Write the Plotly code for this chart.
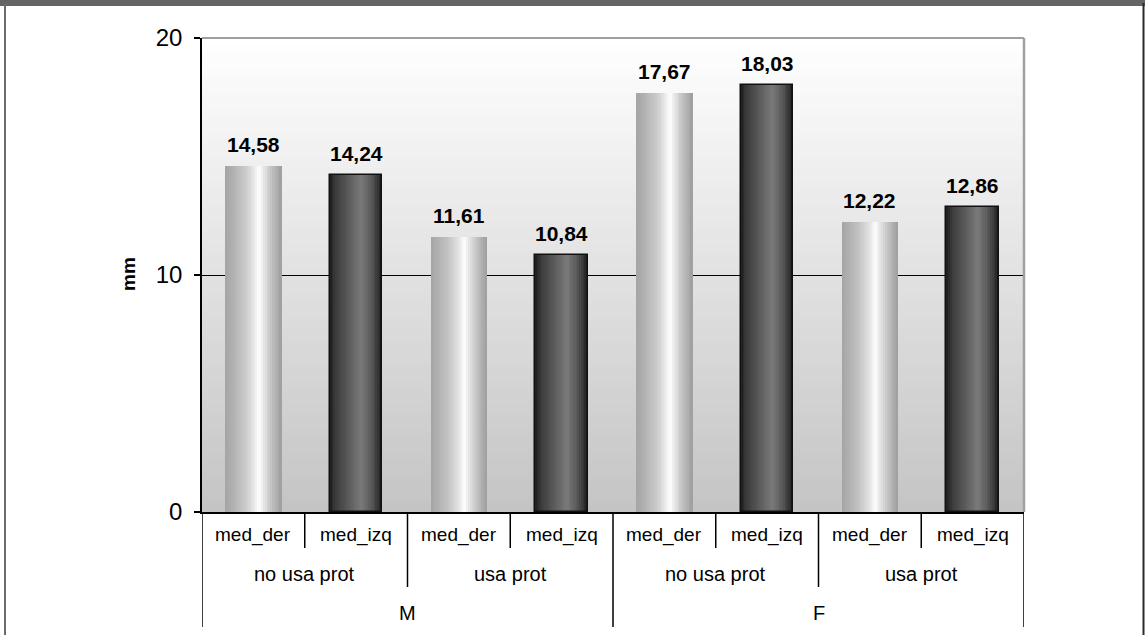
import plotly.graph_objects as go

# ---- data ----
sexes = ["M", "F"]
prot_groups = ["no usa prot", "usa prot"]
sides = ["med_der", "med_izq"]
values = [14.58, 14.24, 11.61, 10.84, 17.67, 18.03, 12.22, 12.86]
y_ticks = [0, 10, 20]
y_title = "mm"

FONT = "Liberation Sans, Arial, sans-serif"

# plot geometry (pixels)
W, H = 1145, 635
ML, MR, MT, MB = 202, 121, 38, 123
PW, PH = W - ML - MR, H - MT - MB


def px_y(py):
    return (H - MB - py) / PH


def px_x(px):
    return (px - ML) / PW


def hex2rgb(h):
    h = h.lstrip("#")
    return tuple(int(h[i:i + 2], 16) for i in (0, 2, 4))


def interp(stops, t):
    for (t0, c0), (t1, c1) in zip(stops, stops[1:]):
        if t0 <= t <= t1:
            f = (t - t0) / (t1 - t0) if t1 > t0 else 0
            a, b = hex2rgb(c0), hex2rgb(c1)
            return "rgb(%d,%d,%d)" % tuple(round(a[i] + (b[i] - a[i]) * f) for i in range(3))
    return stops[-1][1]


light_stops = [(0.0, "#a4a4a4"), (0.15, "#b2b2b2"), (0.35, "#c9c9c9"), (0.5, "#e4e4e4"),
               (0.6, "#ffffff"), (0.7, "#e0e0e0"), (0.85, "#bbbbbb"), (1.0, "#9e9e9e")]
dark_stops = [(0.0, "#1c1c1c"), (0.1, "#3a3a3a"), (0.35, "#5a5a5a"), (0.6, "#7a7a7a"),
              (0.8, "#575757"), (0.92, "#343434"), (1.0, "#1a1a1a")]

xpos = list(range(len(values)))
light_x = [x for x in xpos if x % 2 == 0]
dark_x = [x for x in xpos if x % 2 == 1]
light_v = [values[x] for x in light_x]
dark_v = [values[x] for x in dark_x]

fig = go.Figure()

N = 30


def add_cylinder(xs, vs, width, stops):
    sw = width / N
    for k in range(N):
        c = interp(stops, (k + 0.5) / N)
        w = sw * 1.2 if k < N - 1 else sw
        fig.add_trace(go.Bar(x=xs, y=vs, width=w, offset=-width / 2 + k * sw,
                             marker=dict(color=c, line=dict(width=0)),
                             hoverinfo="skip", showlegend=False))


add_cylinder(light_x, light_v, 0.55, light_stops)
add_cylinder(dark_x, dark_v, 0.51, dark_stops)
fig.add_trace(go.Bar(x=dark_x, y=dark_v, width=0.51, offset=-0.255,
                     marker=dict(color="rgba(0,0,0,0)", line=dict(color="#111111", width=1.5)),
                     hoverinfo="skip", showlegend=False))

shapes = []
# background gradient
NB = 80
for k in range(NB):
    t = (k + 0.5) / NB
    c = interp([(0.0, "#c4c4c4"), (1.0, "#ffffff")], t)
    shapes.append(dict(type="rect", xref="paper", yref="paper", x0=0, x1=1,
                       y0=k / NB, y1=(k + 1) / NB + 0.002, fillcolor=c,
                       line=dict(width=0), layer="below"))
# plot top / right borders
shapes.append(dict(type="line", xref="paper", yref="paper", x0=0, x1=1, y0=1, y1=1,
                   line=dict(color="#a0a0a0", width=2), layer="above"))
shapes.append(dict(type="line", xref="paper", yref="paper", x0=1, x1=1, y0=0, y1=1,
                   line=dict(color="#a0a0a0", width=2.5), layer="above"))

# category axis separators
inner_y = px_y(548)
mid_y = px_y(587)
outer_y = px_y(627)
for g in range(len(sexes) * len(prot_groups)):
    xs = g * 2 + 0.5
    shapes.append(dict(type="line", xref="x", yref="paper", x0=xs, x1=xs, y0=0, y1=inner_y,
                       line=dict(color="black", width=1.5)))
for s in range(len(sexes)):
    xs = s * 4 + 1.5
    shapes.append(dict(type="line", xref="x", yref="paper", x0=xs, x1=xs, y0=0, y1=mid_y,
                       line=dict(color="black", width=1.5)))
for s in range(len(sexes) + 1):
    xs = s * 4 - 0.5
    shapes.append(dict(type="line", xref="x", yref="paper", x0=xs, x1=xs, y0=0, y1=outer_y,
                       line=dict(color="black", width=1.5)))

# outer frame
shapes.append(dict(type="rect", xref="paper", yref="paper", x0=px_x(0), x1=px_x(W),
                   y0=px_y(6), y1=px_y(-2), fillcolor="#646464", line=dict(width=0)))
shapes.append(dict(type="line", xref="paper", yref="paper", x0=px_x(5), x1=px_x(5),
                   y0=px_y(H + 5), y1=px_y(3), line=dict(color="#6a6a6a", width=2)))
shapes.append(dict(type="line", xref="paper", yref="paper", x0=px_x(1143.5), x1=px_x(1143.5),
                   y0=px_y(H + 5), y1=px_y(3), line=dict(color="#2a2a2a", width=2)))

annotations = []
# data labels
for x, v in zip(xpos, values):
    annotations.append(dict(x=x, y=v, xref="x", yref="y", text="<b>%s</b>" % f"{v:.2f}".replace(".", ","),
                            showarrow=False, yanchor="bottom", yshift=8,
                            font=dict(family=FONT, size=21, color="black")))
# level-1 labels
for x in xpos:
    annotations.append(dict(x=x, y=px_y(535), xref="x", yref="paper", text=sides[x % 2],
                            showarrow=False, yanchor="middle",
                            font=dict(family=FONT, size=19, color="black")))
# level-2 labels
for g in range(len(sexes) * len(prot_groups)):
    annotations.append(dict(x=g * 2 + 0.5, y=px_y(574), xref="x", yref="paper",
                            text=prot_groups[g % 2], showarrow=False, yanchor="middle",
                            font=dict(family=FONT, size=20, color="black")))
# level-3 labels
for s in range(len(sexes)):
    annotations.append(dict(x=s * 4 + 1.5, y=px_y(613), xref="x", yref="paper",
                            text=sexes[s], showarrow=False, yanchor="middle",
                            font=dict(family=FONT, size=20, color="black")))
# y title
annotations.append(dict(x=px_x(128), y=px_y(274), xref="paper", yref="paper",
                        text="<b>%s</b>" % y_title, showarrow=False, textangle=-90,
                        xanchor="center", yanchor="middle",
                        font=dict(family=FONT, size=19, color="black")))

fig.update_layout(
    width=W, height=H,
    margin=dict(l=ML, r=MR, t=MT, b=MB, pad=0),
    paper_bgcolor="white", plot_bgcolor="rgba(0,0,0,0)",
    barmode="overlay", bargap=0,
    showlegend=False,
    shapes=shapes, annotations=annotations,
    xaxis=dict(range=[-0.5, len(values) - 0.5], showticklabels=False, ticks="",
               showgrid=False, zeroline=False, showline=True, linecolor="black", linewidth=1.5,
               fixedrange=True),
    yaxis=dict(range=[0, 20], tickvals=y_ticks, ticks="outside", ticklen=6, tickcolor="black",
               tickwidth=1.5, showgrid=True, gridcolor="black", gridwidth=1, zeroline=False,
               showline=True, linecolor="black", linewidth=1.5, ticklabelstandoff=7,
               tickfont=dict(family=FONT, size=24, color="black"), fixedrange=True),
)

fig.write_html("out.html", config={"displayModeBar": False})
